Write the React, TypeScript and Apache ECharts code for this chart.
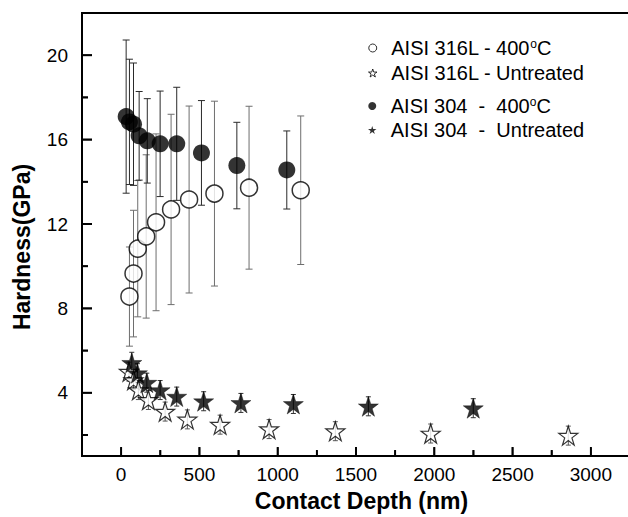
import React, { useEffect, useRef } from "react";
import * as echarts from "echarts";

// ---- data ----
const depth316L400 = [53, 79, 106, 160, 223, 319, 434, 596, 817, 1147];
const hard316L400 = [8.56, 9.65, 10.83, 11.41, 12.08, 12.69, 13.16, 13.44, 13.72, 13.6];
const err316L400 = [2.35, 3.0, 3.23, 3.87, 4.19, 4.51, 4.43, 4.38, 3.86, 3.52];

const depth316LUn = [50, 79, 110, 174, 281, 423, 632, 945, 1368, 1977, 2856];
const hard316LUn = [5.0, 4.6, 4.13, 3.66, 3.11, 2.74, 2.49, 2.28, 2.18, 2.07, 1.97];
const err316LUn = [0.45, 0.45, 0.45, 0.45, 0.45, 0.45, 0.45, 0.45, 0.45, 0.45, 0.45];

const depth304400 = [32, 53, 79, 115, 167, 249, 355, 513, 739, 1058];
const hard304400 = [17.09, 16.84, 16.73, 16.18, 15.94, 15.8, 15.8, 15.37, 14.77, 14.56];
const err304400 = [3.63, 2.97, 2.9, 2.1, 2.0, 2.5, 2.68, 2.48, 2.05, 1.85];

const depth304Un = [68, 104, 164, 249, 355, 527, 765, 1100, 1579, 2249];
const hard304Un = [5.42, 4.93, 4.48, 4.13, 3.82, 3.6, 3.52, 3.47, 3.36, 3.27];
const err304Un = [0.5, 0.45, 0.45, 0.45, 0.45, 0.45, 0.45, 0.45, 0.45, 0.45];

const xMajorTicks = [0, 500, 1000, 1500, 2000, 2500, 3000];
const xMinorTicks = [250, 750, 1250, 1750, 2250, 2750, 3250];
const yMajorTicks = [4, 8, 12, 16, 20];
const yMinorTicks = [2, 6, 10, 14, 18];

const X_MIN = -250;
const X_MAX = 3250;
const Y_MIN = 1;
const Y_MAX = 22;

const names = [
  "AISI 316L - 400°C",
  "AISI 316L - Untreated",
  "AISI 304  -  400°C",
  "AISI 304  -  Untreated",
];

const STAR =
  "path://M50,2 L61.2,36.3 L97.6,36.3 L68.2,57.6 L79.4,91.9 L50,70.6 L20.6,91.9 L31.8,57.6 L2.4,36.3 L38.8,36.3 Z";

const FONT = "'Liberation Sans', Arial, sans-serif";

function pairs(xs: number[], ys: number[]) {
  return xs.map((x, i) => [x, ys[i]]);
}
function errData(xs: number[], ys: number[], es: number[]) {
  return xs.map((x, i) => [x, ys[i] - es[i], ys[i] + es[i]]);
}

function errorSeries(data: number[][], color: string, cap: number) {
  return {
    type: "custom",
    silent: true,
    z: 1,
    encode: { x: 0, y: [1, 2] },
    data,
    renderItem: (params: any, api: any) => {
      const x = api.value(0);
      const lo = api.coord([x, api.value(1)]);
      const hi = api.coord([x, api.value(2)]);
      const st = { stroke: color, lineWidth: 1, fill: "none" };
      return {
        type: "group",
        children: [
          { type: "line", shape: { x1: hi[0], y1: hi[1], x2: lo[0], y2: lo[1] }, style: st },
          { type: "line", shape: { x1: hi[0] - cap, y1: hi[1], x2: hi[0] + cap, y2: hi[1] }, style: st },
          { type: "line", shape: { x1: lo[0] - cap, y1: lo[1], x2: lo[0] + cap, y2: lo[1] }, style: st },
        ],
      };
    },
  };
}

// tick definitions: [x, y, direction (0 = up from x axis, 1 = right from y axis), length]
const tickDefs: number[][] = [
  ...xMajorTicks.map((v) => [v, Y_MIN, 0, 9]),
  ...xMinorTicks.map((v) => [v, Y_MIN, 0, 6]),
  ...yMajorTicks.map((v) => [X_MIN, v, 1, 10]),
  ...yMinorTicks.map((v) => [X_MIN, v, 1, 6]),
];

function tickRect(px: number, py: number, dir: number, len: number) {
  return dir === 0
    ? { x: px - 0.9, y: py - len, width: 1.8, height: len }
    : { x: px, y: py - 0.9, width: len, height: 1.8 };
}

function tickSeries() {
  return {
    type: "custom",
    silent: true,
    z: 6,
    encode: { x: 0, y: 1 },
    data: tickDefs,
    renderItem: (params: any, api: any) => {
      const p = api.coord([api.value(0), api.value(1)]);
      return {
        type: "rect",
        shape: tickRect(p[0], p[1], api.value(2), api.value(3)),
        style: { fill: "#000" },
      };
    },
  };
}

export default function App() {
  const ref = useRef<HTMLDivElement>(null);

  useEffect(() => {
    if (!ref.current) return;
    const chart = echarts.init(ref.current, undefined, { renderer: "svg" });

    const legendText = {
      fontFamily: FONT,
      fontSize: 20,
      color: "#000",
      lineHeight: 20,
      rich: {
        sup: { fontFamily: FONT, fontSize: 12, lineHeight: 12, verticalAlign: "top", color: "#000" },
      },
    };
    const legendFormatter = (n: string) => n.replace("°", "{sup|o}");
    const openStyle = { color: "#fff", borderColor: "#000", borderWidth: 1 };
    const fillStyle = { color: "#000", borderColor: "#000", borderWidth: 0 };

    const axisLine = { show: true, onZero: false, lineStyle: { color: "#000", width: 2 } };

    const yTitle = {
      type: "text",
      id: "ytitle",
      x: 22,
      y: 247,
      rotation: Math.PI / 2,
      silent: true,
      style: {
        text: "Hardness(GPa)",
        fontFamily: FONT,
        fontSize: 23,
        fontWeight: "bold",
        fill: "#000",
        align: "center",
        verticalAlign: "middle",
      },
    };

    const option: any = {
      animation: false,
      backgroundColor: "#fff",
      textStyle: { fontFamily: FONT },
      grid: {
        left: 82,
        right: 10,
        top: 13,
        bottom: 57,
        show: true,
        borderColor: "#000",
        borderWidth: 2,
        backgroundColor: "transparent",
      },
      legend: [
        {
          data: [
            { name: names[0], icon: "circle", itemStyle: openStyle },
            { name: names[1], icon: STAR, itemStyle: openStyle },
          ],
          orient: "vertical",
          left: 368,
          top: 38,
          itemWidth: 27,
          itemHeight: 8,
          itemGap: 5,
          padding: 0,
          formatter: legendFormatter,
          textStyle: legendText,
          selectedMode: false,
        },
        {
          data: [
            { name: names[2], icon: "circle", itemStyle: fillStyle },
            { name: names[3], icon: STAR, itemStyle: fillStyle },
          ],
          orient: "vertical",
          left: 368,
          top: 96,
          itemWidth: 27,
          itemHeight: 8,
          itemGap: 4,
          padding: 0,
          formatter: legendFormatter,
          textStyle: legendText,
          selectedMode: false,
        },
      ],
      graphic: [yTitle],
      xAxis: {
        type: "value",
        min: X_MIN,
        max: X_MAX,
        axisLine,
        splitLine: { show: false },
        axisTick: { show: false },
        axisLabel: {
          customValues: xMajorTicks,
          formatter: (v: number) => String(v),
          fontFamily: FONT,
          fontSize: 19,
          color: "#000",
          margin: 9,
        },
        name: "Contact Depth (nm)",
        nameLocation: "middle",
        nameGap: 31,
        nameTextStyle: {
          fontFamily: FONT,
          fontSize: 23,
          fontWeight: "bold",
          color: "#000",
          padding: [0, 0, 0, 11],
        },
      },
      yAxis: {
        type: "value",
        min: Y_MIN,
        max: Y_MAX,
        axisLine,
        splitLine: { show: false },
        axisTick: { show: false },
        axisLabel: {
          customValues: yMajorTicks,
          fontFamily: FONT,
          fontSize: 19,
          color: "#000",
          margin: 14,
        },
      },
      series: [
        errorSeries(errData(depth316L400, hard316L400, err316L400), "#6e6e6e", 3.5),
        errorSeries(errData(depth304400, hard304400, err304400), "#2a2a2a", 3.5),
        errorSeries(errData(depth316LUn, hard316LUn, err316LUn), "#555", 2.5),
        errorSeries(errData(depth304Un, hard304Un, err304Un), "#333", 2.5),
        {
          name: names[0],
          type: "scatter",
          z: 3,
          symbol: "circle",
          symbolSize: 17,
          data: pairs(depth316L400, hard316L400),
          itemStyle: { color: "#fff", borderColor: "#000", borderWidth: 1.5 },
        },
        {
          name: names[2],
          type: "scatter",
          z: 4,
          symbol: "circle",
          symbolSize: 17,
          data: pairs(depth304400, hard304400),
          itemStyle: { color: "#000", borderColor: "#000", borderWidth: 0 },
        },
        {
          name: names[1],
          type: "scatter",
          z: 3,
          symbol: STAR,
          symbolSize: 19,
          data: pairs(depth316LUn, hard316LUn),
          itemStyle: { color: "#fff", borderColor: "#000", borderWidth: 1.2 },
        },
        {
          name: names[3],
          type: "scatter",
          z: 4,
          symbol: STAR,
          symbolSize: 20,
          data: pairs(depth304Un, hard304Un),
          itemStyle: { color: "#000", borderColor: "#000", borderWidth: 0.5 },
        },
        tickSeries(),
      ],
    };

    chart.setOption(option);

    // same ticks again as graphic rects, positioned through the chart's own scales
    const ticks = tickDefs.map((t, i) => {
      const p = chart.convertToPixel({ gridIndex: 0 }, [t[0], t[1]]) as number[];
      return {
        type: "rect",
        id: "tick" + i,
        z: 100,
        silent: true,
        shape: tickRect(p[0], p[1], t[2], t[3]),
        style: { fill: "#000" },
      };
    });
    chart.setOption({ graphic: [yTitle, ...ticks] });

    return () => chart.dispose();
  }, []);

  return (
    <div
      style={{
        position: "fixed",
        left: 0,
        top: 0,
        width: 628,
        height: 517,
        overflow: "hidden",
        background: "#fff",
      }}
    >
      <div ref={ref} style={{ width: 640, height: 517 }} />
    </div>
  );
}
